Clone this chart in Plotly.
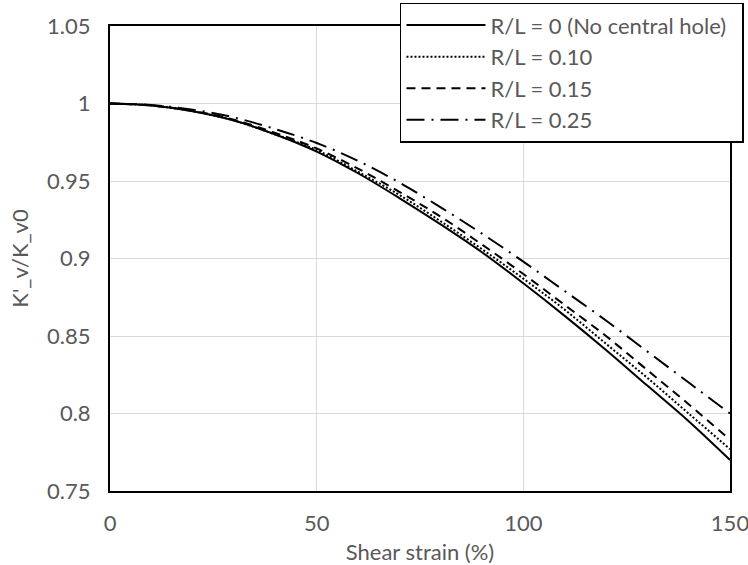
import plotly.graph_objects as go

strain = [0, 10, 20, 30, 40, 50, 60, 70, 80, 90, 100, 110, 120, 130, 140, 150]
k_r000 = [1.000, 0.9987, 0.995, 0.989, 0.980, 0.969, 0.955, 0.939, 0.922, 0.904, 0.884, 0.863, 0.841, 0.818, 0.795, 0.770]
k_r010 = [1.000, 0.9987, 0.995, 0.989, 0.980, 0.970, 0.956, 0.941, 0.924, 0.906, 0.887, 0.867, 0.845, 0.823, 0.800, 0.777]
k_r015 = [1.000, 0.9988, 0.9952, 0.9895, 0.981, 0.971, 0.958, 0.943, 0.927, 0.909, 0.890, 0.870, 0.850, 0.828, 0.806, 0.783]
k_r025 = [1.000, 0.999, 0.996, 0.991, 0.9835, 0.9745, 0.963, 0.949, 0.933, 0.916, 0.898, 0.879, 0.860, 0.840, 0.820, 0.800]

names = ["R/L = 0 (No central hole)\u2002", "R/L = 0.10", "R/L = 0.15", "R/L = 0.25"]
series = [k_r000, k_r010, k_r015, k_r025]
dashes = ["solid", "2px,2px", "9px,6px", "18px,7px,2px,7px"]

x_ticks = [0, 50, 100, 150]
y_ticks = [0.75, 0.8, 0.85, 0.9, 0.95, 1.0, 1.05]
y_tick_text = ["0.75", "0.8", "0.85", "0.9", "0.95", "1", "1.05"]

FONT = "Lato"
GRAY = "#595959"
FS = 22

fig = go.Figure()
for name, ys, d in zip(names, series, dashes):
    fig.add_trace(go.Scatter(
        x=strain, y=ys, mode="lines", name=name,
        line=dict(color="black", width=2, dash=d, shape="spline"),
    ))

fig.update_layout(
    template="none",
    width=748, height=565,
    margin=dict(l=110, r=18, t=26, b=74, autoexpand=False),
    paper_bgcolor="white", plot_bgcolor="white",
    font=dict(family=FONT, size=FS, color=GRAY),
    showlegend=True,
    legend=dict(
        x=0.4677, y=1.05, xanchor="left", yanchor="top",
        bgcolor="white", bordercolor="black", borderwidth=1.5,
        font=dict(family=FONT, size=FS, color=GRAY),
        itemwidth=79,
        tracegroupgap=0,
    ),
    xaxis=dict(
        range=[0, 150], tickvals=x_ticks, ticks="", showline=True,
        linecolor="black", linewidth=2, mirror=True,
        showgrid=True, gridcolor="#d9d9d9", gridwidth=1,
        zeroline=False, ticklabelstandoff=12, ticklabeloverflow="allow",
        automargin=False,
        title=dict(text="Shear strain (%)", standoff=12,
                   font=dict(family=FONT, size=FS, color=GRAY)),
    ),
    yaxis=dict(
        range=[0.75, 1.05], tickvals=y_ticks, ticktext=y_tick_text, ticks="",
        showline=True, linecolor="black", linewidth=2, mirror=True,
        showgrid=True, gridcolor="#d9d9d9", gridwidth=1,
        zeroline=False, ticklabelstandoff=13, ticklabeloverflow="allow",
        automargin=False,
        title=dict(text="K'_v/K_v0", standoff=12,
                   font=dict(family=FONT, size=FS, color=GRAY)),
    ),
)

fig.write_html("out.html")
